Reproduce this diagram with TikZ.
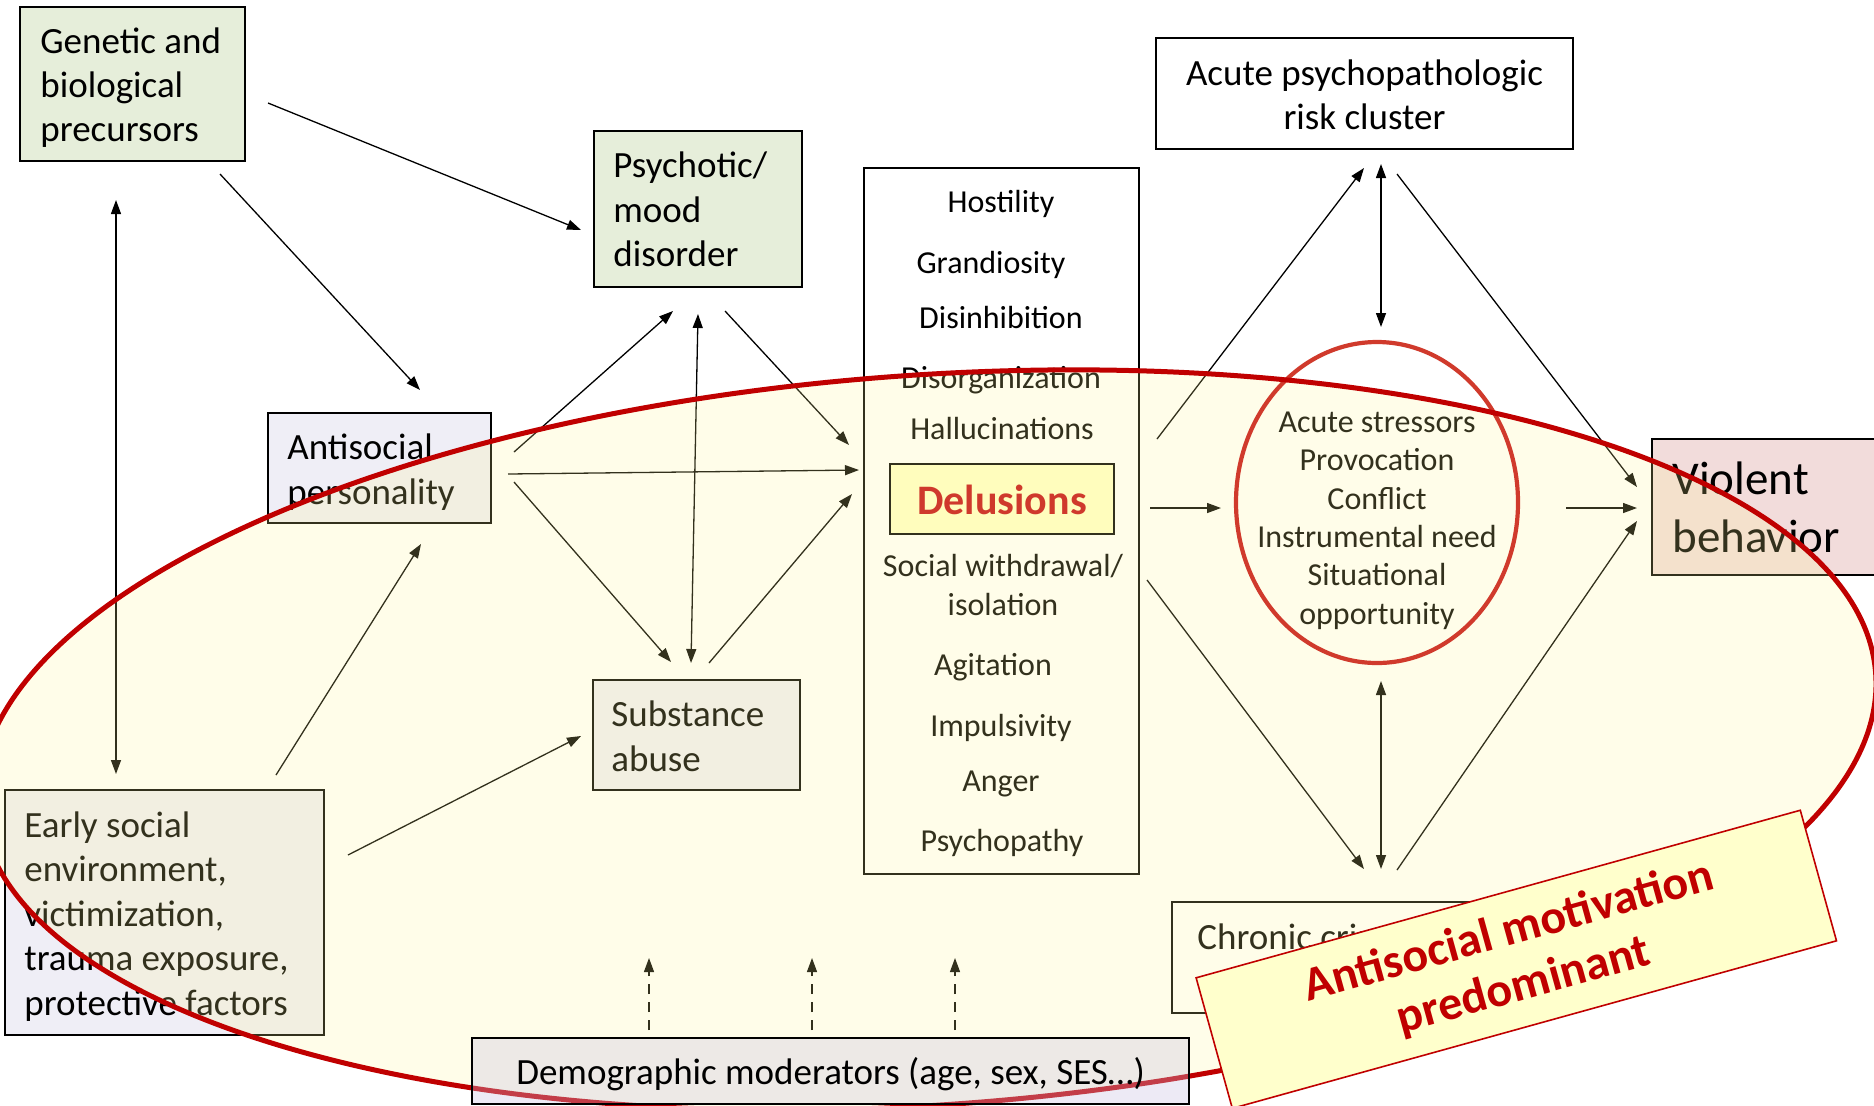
\documentclass[tikz,border=0pt]{standalone}
\usepackage{fontspec}
\setmainfont{Carlito}
\usetikzlibrary{arrows.meta}
\definecolor{boxgreen}{RGB}{230,238,218}
\definecolor{boxlav}{RGB}{239,238,246}
\definecolor{boxpink}{RGB}{242,220,219}
\definecolor{delfill}{RGB}{255,255,200}
\definecolor{delred}{RGB}{196,11,19}
\definecolor{darkred}{RGB}{192,0,0}
\definecolor{ovyellow}{RGB}{255,245,145}
\definecolor{ringred}{RGB}{208,58,44}
\definecolor{demofill}{RGB}{202,192,224}
\definecolor{noteyellow}{RGB}{255,255,204}
\newcommand\fsnorm{\fontsize{18.5}{22.2}\selectfont}
\newcommand\fssmall{\fontsize{16}{19.4}\selectfont}
\newcommand\fsbig{\fontsize{23.5}{29}\selectfont}
\newcommand\fsdel{\fontsize{21}{25}\selectfont}
\newcommand\fsnote{\fontsize{24}{28}\selectfont}
\begin{document}
\begin{tikzpicture}[x=0.5pt,y=-0.5pt,
  box/.style={draw=black,line width=1pt,inner sep=0pt},
  lbl/.style={inner sep=0pt,align=left,font=\fsnorm},
  item/.style={inner sep=0pt,align=center,font=\fssmall},
  arr/.style={line width=0.65pt,-{Triangle[length=7pt,width=5pt]}},
  darr/.style={line width=0.65pt,{Triangle[length=7pt,width=5pt]}-{Triangle[length=7pt,width=5pt]}},
  dasharr/.style={line width=0.6pt,dash pattern=on 5pt off 4pt,-{Triangle[length=7pt,width=5pt]}}
]
\useasboundingbox (0,0) rectangle (1874,1105);
\fill[white] (0,0) rectangle (1874,1105);

% boxes
\node[box,fill=boxgreen,minimum width=112.5pt,minimum height=77pt] (gen) at (132.5,84) {};
\node[lbl,anchor=west] (gent) at ([xshift=10.5pt,yshift=-1.8pt]gen.west) {Genetic and\\biological\\precursors};

\node[box,fill=boxgreen,minimum width=104pt,minimum height=78pt] (psy) at (698,209) {};
\node[lbl,anchor=west] (psyt) at ([xshift=10pt,yshift=-0.3pt]psy.west) {Psychotic/\\mood\\disorder};

\node[box,fill=boxlav,minimum width=111.5pt,minimum height=55pt] (asp) at (379.5,468) {};
\node[lbl,anchor=west] (aspt) at ([xshift=10pt,yshift=-2pt]asp.west) {Antisocial\\personality};

\node[box,fill=boxlav,minimum width=103.5pt,minimum height=55pt] (sub) at (696.5,735) {};
\node[lbl,anchor=west] (subt) at ([xshift=9.5pt,yshift=-0.6pt]sub.west) {Substance\\abuse};

\node[box,fill=boxlav,minimum width=159.5pt,minimum height=122.5pt] (early) at (164.5,912.5) {};
\node[lbl,anchor=west] (earlyt) at ([xshift=10pt,yshift=-2pt]early.west) {Early social\\environment,\\victimization,\\trauma exposure,\\protective factors};

\node[box,fill=white,minimum width=137.5pt,minimum height=353pt] (sym) at (1001.5,521) {};

\node[box,fill=white,minimum width=208.5pt,minimum height=55.5pt] (acute) at (1364.5,93.5) {};
\node[lbl,align=center] (acutet) at (1364.5,95) {Acute psychopathologic\\risk cluster};

\node[box,fill=boxpink,minimum width=119pt,minimum height=68pt] (viol) at (1771,507) {};
\node[lbl,font=\fsbig,anchor=west] (violt) at ([xshift=10.5pt]viol.west) {Violent\\behavior};

\node[box,fill=white,minimum width=154pt,minimum height=55.5pt] (chron) at (1326,957.5) {};
\node[lbl,anchor=base west] (chront) at (1197,949) {Chronic criminogenic};

% symptom list
\node[item] (i1) at (1001,203.5) {Hostility};
\node[item] (i2) at (991,264.5) {Grandiosity};
\node[item] (i3) at (1001,317) {Disinhibition};
\node[item] (i4) at (1001,380.5) {Disorganization};
\node[item] (i5) at (1002,428) {Hallucinations};
\node[box,fill=delfill,minimum width=112pt,minimum height=35pt] (del) at (1002,499) {};
\node[inner sep=0pt,font=\fsdel\bfseries,text=delred] (delt) at (1002,500) {Delusions};
\node[item] (i6) at (1003,585) {Social withdrawal/\\isolation};
\node[item] (i7) at (993,667.5) {Agitation};
\node[item] (i8) at (1001,727.5) {Impulsivity};
\node[item] (i9) at (1001,783.5) {Anger};
\node[item] (i10) at (1002,842.5) {Psychopathy};

% ring text
\node[item,font=\fontsize{16}{19.2}\selectfont] (ringt) at (1377,520.5) {Acute stressors\\Provocation\\Conflict\\Instrumental need\\Situational\\opportunity};

% arrow end points
\coordinate (a1s) at (268,103);  \coordinate (a1e) at (581,230);
\coordinate (a2s) at (220,174);  \coordinate (a2e) at (420,390);
\coordinate (a3s) at (116,200);  \coordinate (a3e) at (116,774);
\coordinate (a4s) at (276,775);  \coordinate (a4e) at (421,544);
\coordinate (a5s) at (348,855);  \coordinate (a5e) at (581,736);
\coordinate (a6s) at (514,452);  \coordinate (a6e) at (673,311);
\coordinate (a7s) at (508,474);  \coordinate (a7e) at (859,470);
\coordinate (a8s) at (514,482);  \coordinate (a8e) at (671,662);
\coordinate (a9s) at (698,314);  \coordinate (a9e) at (691,663);
\coordinate (a10s) at (725,311); \coordinate (a10e) at (849,445);
\coordinate (a11s) at (709,663); \coordinate (a11e) at (852,494);
\coordinate (a12s) at (1157,439); \coordinate (a12e) at (1364,168);
\coordinate (a13s) at (1381,164); \coordinate (a13e) at (1381,327);
\coordinate (a14s) at (1397,174); \coordinate (a14e) at (1637,487);
\coordinate (a15s) at (1150,508); \coordinate (a15e) at (1221,508);
\coordinate (a16s) at (1566,508); \coordinate (a16e) at (1637,508);
\coordinate (a17s) at (1147,580); \coordinate (a17e) at (1364,869);
\coordinate (a18s) at (1381,681); \coordinate (a18e) at (1381,869);
\coordinate (a19s) at (1397,870); \coordinate (a19e) at (1637,521);
\coordinate (d1s) at (649,1030); \coordinate (d1e) at (649,958);
\coordinate (d2s) at (812,1030); \coordinate (d2e) at (812,958);
\coordinate (d3s) at (955,1030); \coordinate (d3e) at (955,958);

\draw[arr] (a1s) -- (a1e);
\draw[arr] (a2s) -- (a2e);
\draw[darr] (a3s) -- (a3e);
\draw[arr] (a4s) -- (a4e);
\draw[arr] (a5s) -- (a5e);
\draw[arr] (a6s) -- (a6e);
\draw[arr] (a7s) -- (a7e);
\draw[arr] (a8s) -- (a8e);
\draw[darr] (a9s) -- (a9e);
\draw[arr] (a10s) -- (a10e);
\draw[arr] (a11s) -- (a11e);
\draw[arr] (a12s) -- (a12e);
\draw[darr] (a13s) -- (a13e);
\draw[arr] (a14s) -- (a14e);
\draw[arr] (a15s) -- (a15e);
\draw[arr] (a16s) -- (a16e);
\draw[arr] (a17s) -- (a17e);
\draw[darr] (a18s) -- (a18e);
\draw[arr] (a19s) -- (a19e);
\draw[dasharr] (d1s) -- (d1e);
\draw[dasharr] (d2s) -- (d2e);
\draw[dasharr] (d3s) -- (d3e);

% translucent overlay ellipse
\fill[ovyellow,fill opacity=0.2,rotate around={4:(928,740)}] (928,740) ellipse [x radius=950, y radius=365];

% small ring
\draw[ringred,line width=2.1pt] (1377,502.5) ellipse [x radius=141, y radius=160.5];

% big ellipse border
\draw[darkred,line width=2.5pt,rotate around={4:(928,740)}] (928,740) ellipse [x radius=950, y radius=365];

% demographic box (semi-transparent, on top)
\node[draw=black,line width=1pt,fill=demofill,fill opacity=0.32,text opacity=1,inner sep=0pt,
  minimum width=358.5pt,minimum height=33pt,font=\fsnorm] (demo) at (830.5,1071) {};
\node[inner sep=0pt,font=\fsnorm] (demot) at (830.5,1074) {Demographic moderators (age, sex, SES…)};

% note box
\node[draw=darkred,line width=0.8pt,fill=noteyellow,rotate=15.5,inner sep=0pt,
  minimum width=313.5pt,minimum height=67.75pt,align=center,text=darkred,
  font=\fsnote\bfseries] (note) at (1516.3,959.3) {Antisocial motivation\\predominant};
\end{tikzpicture}
\end{document}
